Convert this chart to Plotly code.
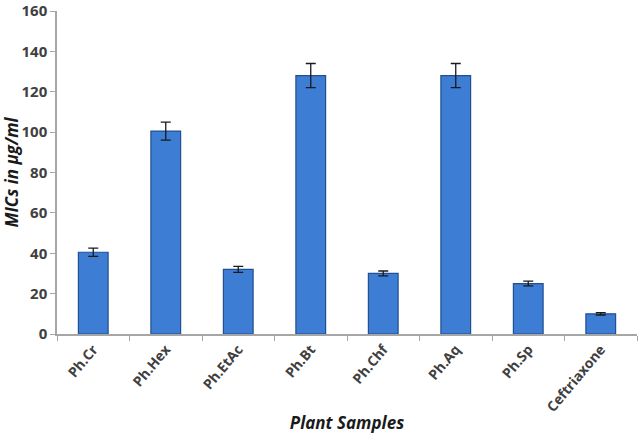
import plotly.graph_objects as go

categories = ["Ph.Cr", "Ph.Hex", "Ph.EtAc", "Ph.Bt", "Ph.Chf", "Ph.Aq", "Ph.Sp", "Ceftriaxone"]
mic_values = [40.5, 100.5, 32, 128, 30, 128, 25, 10]
mic_errors = [2, 4.5, 1.5, 6, 1.2, 6, 1.2, 0.6]
y_ticks = [0, 20, 40, 60, 80, 100, 120, 140, 160]

fig = go.Figure()
fig.add_trace(go.Bar(
    x=categories, y=mic_values,
    marker=dict(color="#3d7dd4", line=dict(color="#22508f", width=1.2)),
    error_y=dict(type="data", array=mic_errors, color="#1a1a1a", thickness=1.3, width=5),
    width=0.41,
))

font_family = "Open Sans, Liberation Sans, sans-serif"
fig.update_layout(
    width=640, height=437,
    margin=dict(l=57, r=3, t=11, b=103, autoexpand=False),
    plot_bgcolor="white", paper_bgcolor="white",
    showlegend=False,
    font=dict(family=font_family, color="#404040"),
    xaxis=dict(
        showline=True, linecolor="#a6a6a6", linewidth=1.5,
        ticks="outside", ticklen=5, tickcolor="#a6a6a6",
        tickangle=-50, tickson="boundaries", automargin=False,
        tickfont=dict(size=14, family=font_family, weight="bold", color="#404040"),
        title=dict(text="<b><i>Plant Samples</i></b>", font=dict(size=17, color="#1a1a1a"), standoff=3),
    ),
    yaxis=dict(
        range=[0, 160], tickvals=y_ticks, automargin=False,
        showline=True, linecolor="#a6a6a6", linewidth=1.5,
        ticks="outside", ticklen=5, tickcolor="#a6a6a6",
        showgrid=False, zeroline=False, ticklabeloverflow="allow",
        tickfont=dict(size=15, family=font_family, weight="bold", color="#404040"),
        title=dict(text="<b><i>MICs in µg/ml</i></b>", font=dict(size=17, color="#1a1a1a"), standoff=8),
    ),
)

fig.write_html("out.html", config={"displayModeBar": False})
with open("out.html", encoding="utf-8") as f:
    html = f.read()
html = html.replace("<head>", "<head><style>html,body{margin:0;padding:0;overflow:hidden;}</style>", 1)
with open("out.html", "w", encoding="utf-8") as f:
    f.write(html)
